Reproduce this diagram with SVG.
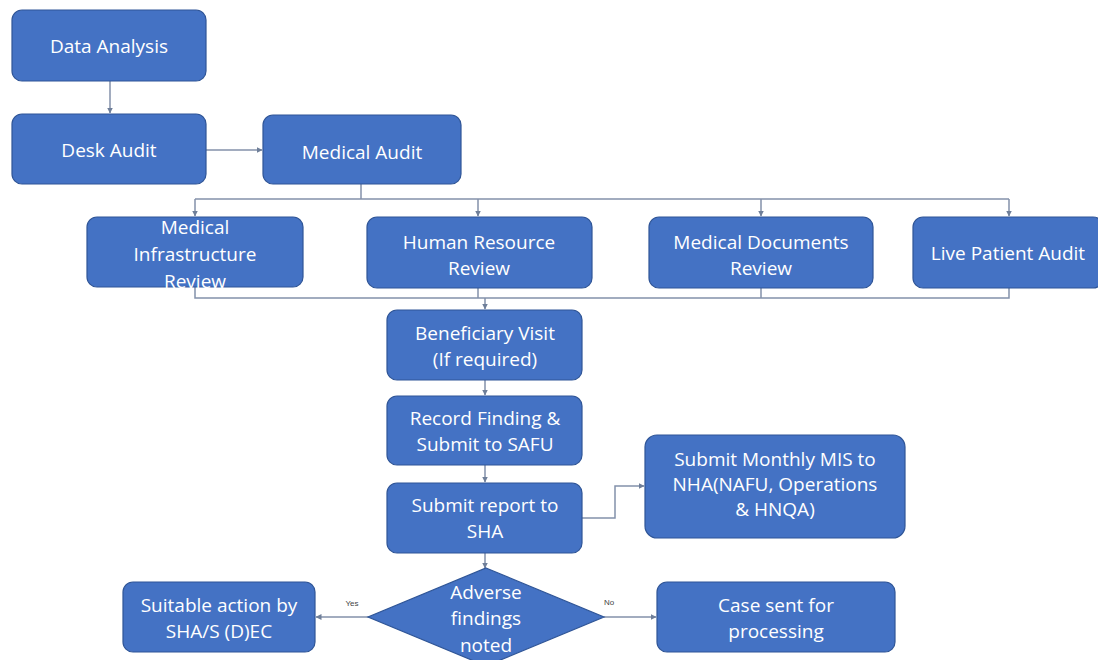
<svg xmlns="http://www.w3.org/2000/svg" width="1098" height="660" viewBox="0 0 1098 660">
  <defs>
    <marker id="arr" viewBox="0 0 6 6" refX="5.5" refY="3" markerWidth="6" markerHeight="6" markerUnits="userSpaceOnUse" orient="auto">
      <path d="M0,0 L6,3 L0,6 z" fill="#6f7f99"/>
    </marker>
    <style>
      .box { fill: #4472C4; stroke: #2F5597; stroke-width: 1.2; }
      .lbl { fill: #ffffff; font-family: "Open Sans", "Liberation Sans", sans-serif; font-size: 19px; text-anchor: middle; }
      .edge { fill: none; stroke: #8391aa; stroke-width: 1.5; }
      .elbl { fill: #444444; font-family: "Liberation Sans", sans-serif; font-size: 8px; text-anchor: middle; }
    </style>
  </defs>
  <rect width="1098" height="660" fill="#ffffff"/>

  <g id="connectors">
    <path class="edge" d="M110,81 V113" marker-end="url(#arr)"/>
    <path class="edge" d="M206,150 H262" marker-end="url(#arr)"/>
    <path class="edge" d="M361,184 V199"/>
    <path class="edge" d="M195,199 H1009"/>
    <path class="edge" d="M195,199 V216" marker-end="url(#arr)"/>
    <path class="edge" d="M478,199 V216" marker-end="url(#arr)"/>
    <path class="edge" d="M761,199 V216" marker-end="url(#arr)"/>
    <path class="edge" d="M1009,199 V216" marker-end="url(#arr)"/>
    <path class="edge" d="M195,287 V298 H1009 V288"/>
    <path class="edge" d="M478,288 V298"/>
    <path class="edge" d="M761,288 V298"/>
    <path class="edge" d="M485,298 V309" marker-end="url(#arr)"/>
    <path class="edge" d="M485,380 V395" marker-end="url(#arr)"/>
    <path class="edge" d="M485,465 V482" marker-end="url(#arr)"/>
    <path class="edge" d="M485,553 V568" marker-end="url(#arr)"/>
    <path class="edge" d="M582,518 H615 V486 H644" marker-end="url(#arr)"/>
    <path class="edge" d="M369,617 H316" marker-end="url(#arr)"/>
    <path class="edge" d="M604,617 H656" marker-end="url(#arr)"/>
    <text class="elbl" x="352" y="606">Yes</text>
    <text class="elbl" x="609" y="605">No</text>
  </g>

  <g id="data-analysis">
    <rect class="box" x="12" y="10" width="194" height="71" rx="10"/>
    <text class="lbl" x="109" y="53">Data Analysis</text>
  </g>
  <g id="desk-audit">
    <rect class="box" x="12" y="114" width="194" height="70" rx="10"/>
    <text class="lbl" x="109" y="157">Desk Audit</text>
  </g>
  <g id="medical-audit">
    <rect class="box" x="263" y="115" width="198" height="69" rx="10"/>
    <text class="lbl" x="362" y="159">Medical Audit</text>
  </g>

  <g id="infra-review">
    <rect class="box" x="87" y="217" width="216" height="70" rx="10"/>
    <text class="lbl" x="195" y="234">Medical</text>
    <text class="lbl" x="195" y="261">Infrastructure</text>
    <text class="lbl" x="195" y="288">Review</text>
  </g>
  <g id="hr-review">
    <rect class="box" x="367" y="217" width="225" height="71" rx="10"/>
    <text class="lbl" x="479" y="249">Human Resource</text>
    <text class="lbl" x="479" y="275">Review</text>
  </g>
  <g id="docs-review">
    <rect class="box" x="649" y="217" width="224" height="71" rx="10"/>
    <text class="lbl" x="761" y="249">Medical Documents</text>
    <text class="lbl" x="761" y="275">Review</text>
  </g>
  <g id="live-patient">
    <rect class="box" x="913" y="217" width="190" height="71" rx="10"/>
    <text class="lbl" x="1008" y="260">Live Patient Audit</text>
  </g>

  <g id="beneficiary-visit">
    <rect class="box" x="387" y="310" width="195" height="70" rx="10"/>
    <text class="lbl" x="485" y="340">Beneficiary Visit</text>
    <text class="lbl" x="485" y="366">(If required)</text>
  </g>
  <g id="record-finding">
    <rect class="box" x="387" y="396" width="195" height="69" rx="10"/>
    <text class="lbl" x="485" y="425">Record Finding &amp;</text>
    <text class="lbl" x="485" y="451">Submit to SAFU</text>
  </g>
  <g id="submit-report">
    <rect class="box" x="387" y="483" width="195" height="70" rx="10"/>
    <text class="lbl" x="485" y="512">Submit report to</text>
    <text class="lbl" x="485" y="538">SHA</text>
  </g>
  <g id="monthly-mis">
    <rect class="box" x="645" y="435" width="260" height="103" rx="12"/>
    <text class="lbl" x="775" y="466">Submit Monthly MIS to</text>
    <text class="lbl" x="775" y="491">NHA(NAFU, Operations</text>
    <text class="lbl" x="775" y="516">&amp; HNQA)</text>
  </g>

  <g id="adverse-findings">
    <polygon class="box" points="486,568 604,617 486,666 368,617"/>
    <text class="lbl" x="486" y="599">Adverse</text>
    <text class="lbl" x="486" y="625">findings</text>
    <text class="lbl" x="486" y="652">noted</text>
  </g>
  <g id="suitable-action">
    <rect class="box" x="123" y="582" width="192" height="70" rx="10"/>
    <text class="lbl" x="219" y="612">Suitable action by</text>
    <text class="lbl" x="219" y="638">SHA/S (D)EC</text>
  </g>
  <g id="case-processing">
    <rect class="box" x="657" y="582" width="238" height="70" rx="10"/>
    <text class="lbl" x="776" y="612">Case sent for</text>
    <text class="lbl" x="776" y="638">processing</text>
  </g>
</svg>
